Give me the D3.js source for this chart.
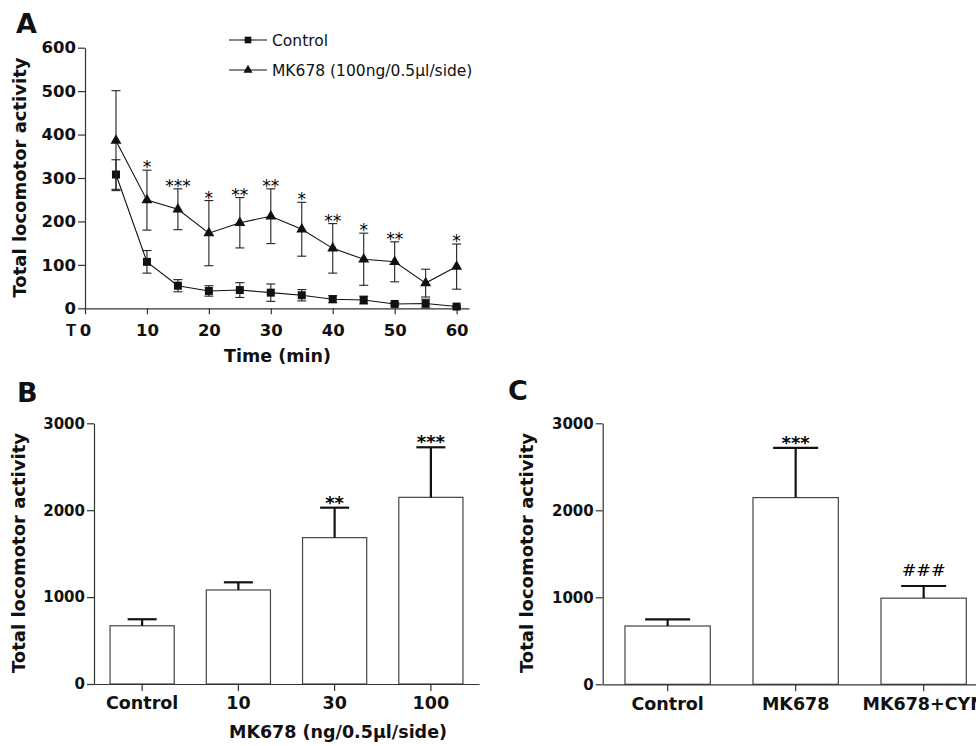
<!DOCTYPE html>
<html>
<head>
<meta charset="utf-8">
<script src="https://cdn.jsdelivr.net/npm/d3@7"></script>
<style>
  body { margin: 0; background: #fff; }
  svg { display: block; }
</style>
</head>
<body>
<div id="chart"></div>
<script>
// panel A: time course
const times = [5, 10, 15, 20, 25, 30, 35, 40, 45, 50, 55, 60];
const controlMean = [308, 107, 52, 40, 42, 36, 30, 21, 19, 10, 11, 4];
const controlSem  = [34, 26, 14, 12, 17, 20, 13, 8, 9, 3, 10, 2];
const mkMean = [386, 249, 228, 173, 197, 212, 182, 138, 113, 107, 58, 96];
const mkSem  = [115, 69, 47, 75, 58, 63, 62, 57, 60, 46, 32, 52];
const mkSig  = ["", "*", "***", "*", "**", "**", "*", "**", "*", "**", "", "*"];
const timeTicks = [0, 10, 20, 30, 40, 50, 60];
const countTicksA = [0, 100, 200, 300, 400, 500, 600];

// panel B: dose response
const doseLabels = ["Control", "10", "30", "100"];
const doseMean = [670, 1082, 1684, 2148];
const doseSem  = [75, 88, 345, 576];
const doseSig  = ["", "", "**", "***"];

// panel C: antagonist
const groupLabels = ["Control", "MK678", "MK678+CYN"];
const groupMean = [670, 2146, 990];
const groupSem  = [77, 571, 140];
const groupSig  = ["", "***", "###"];

const countTicksBC = [0, 1000, 2000, 3000];

const W = 976, H = 746;
const FONT = "'DejaVu Sans', sans-serif";
const AXIS = "#333";

const svg = d3.select("#chart").append("svg")
  .attr("width", W).attr("height", H)
  .attr("viewBox", `0 0 ${W} ${H}`)
  .style("font-family", FONT);

function styleAxis(g, size) {
  g.select(".domain").attr("stroke", AXIS).attr("stroke-width", 1.2);
  g.selectAll(".tick line").attr("stroke", AXIS).attr("stroke-width", 1.2);
  g.selectAll(".tick text")
    .attr("fill", "#111")
    .attr("font-family", FONT)
    .attr("font-weight", "bold")
    .attr("font-size", size);
}

function panelLabel(x, y, t) {
  svg.append("text").attr("x", x).attr("y", y)
    .attr("font-size", 27).attr("font-weight", "bold").attr("fill", "#111")
    .text(t);
}

function yTitle(x, y) {
  svg.append("text")
    .attr("transform", `translate(${x},${y}) rotate(-90)`)
    .attr("text-anchor", "middle")
    .attr("font-size", 18).attr("font-weight", "bold").attr("fill", "#111")
    .text("Total locomotor activity");
}

// ---------- A ----------
const xA = d3.scaleLinear().domain([0, 62]).range([85, 469]);
const yA = d3.scaleLinear().domain([0, 600]).range([308.3, 47.7]);

svg.append("g")
  .attr("transform", `translate(0,${yA(0)})`)
  .call(d3.axisBottom(xA).tickValues(timeTicks).tickSize(6).tickSizeOuter(0).tickPadding(10))
  .call(g => styleAxis(g, 16.5))
  .call(g => g.append("text")
    .attr("x", xA(0) - 9).attr("y", 16).attr("dy", "0.71em")
    .attr("text-anchor", "end").attr("font-size", 16.5).attr("font-weight", "bold")
    .attr("fill", "#111").text("T"));

svg.append("g")
  .attr("transform", `translate(${xA(0)},0)`)
  .call(d3.axisLeft(yA).tickValues(countTicksA).tickSize(7).tickSizeOuter(0).tickPadding(2))
  .call(g => styleAxis(g, 16.5));

const seriesA = [
  { name: "Control", mean: controlMean, sem: controlSem, shape: d3.symbolSquare, size: 64 },
  { name: "MK678 (100ng/0.5µl/side)", mean: mkMean, sem: mkSem, shape: d3.symbolTriangle, size: 52 }
];

const line = d3.line().x(d => xA(d.t)).y(d => yA(d.m));

seriesA.forEach((s, si) => {
  const pts = times.map((t, i) => ({ t, m: s.mean[i], e: s.sem[i] }));
  const g = svg.append("g");
  // error bars
  const eb = g.selectAll("g.eb").data(pts).join("g").attr("class", "eb");
  eb.append("line")
    .attr("x1", d => xA(d.t)).attr("x2", d => xA(d.t))
    .attr("y1", d => yA(d.m + d.e)).attr("y2", d => yA(Math.max(0, d.m - d.e)))
    .attr("stroke", "#222").attr("stroke-width", 1.1);
  eb.append("line")
    .attr("x1", d => xA(d.t) - 4.5).attr("x2", d => xA(d.t) + 4.5)
    .attr("y1", d => yA(d.m + d.e)).attr("y2", d => yA(d.m + d.e))
    .attr("stroke", "#222").attr("stroke-width", 1.1);
  eb.append("line")
    .attr("x1", d => xA(d.t) - 4.5).attr("x2", d => xA(d.t) + 4.5)
    .attr("y1", d => yA(Math.max(0, d.m - d.e))).attr("y2", d => yA(Math.max(0, d.m - d.e)))
    .attr("stroke", "#222").attr("stroke-width", 1.1);
  g.append("path").datum(pts)
    .attr("d", line).attr("fill", "none").attr("stroke", "#111").attr("stroke-width", 1.1);
  g.selectAll("path.mk").data(pts).join("path").attr("class", "mk")
    .attr("transform", d => `translate(${xA(d.t)},${yA(d.m)})`)
    .attr("d", d3.symbol(s.shape, s.size)).attr("fill", "#111");

  // legend
  const ly = si === 0 ? 40 : 70;
  svg.append("line").attr("x1", 229).attr("x2", 267).attr("y1", ly).attr("y2", ly)
    .attr("stroke", "#111").attr("stroke-width", 1.1);
  svg.append("path").attr("transform", `translate(248,${ly})`)
    .attr("d", d3.symbol(s.shape, s.size * 0.7)).attr("fill", "#111");
  svg.append("text").attr("x", 272).attr("y", ly + 5.5)
    .attr("font-size", 15.5).attr("fill", "#111").text(s.name);
});

svg.append("g").selectAll("text").data(times.map((t, i) => ({ t, m: mkMean[i], e: mkSem[i], s: mkSig[i] })))
  .join("text")
  .attr("x", d => xA(d.t)).attr("y", d => yA(d.m + d.e) + 3)
  .attr("text-anchor", "middle").attr("font-size", 17).attr("fill", "#000")
  .text(d => d.s);

svg.append("text").attr("x", 277.5).attr("y", 362)
  .attr("text-anchor", "middle").attr("font-size", 17.5).attr("font-weight", "bold")
  .attr("fill", "#111").text("Time (min)");

panelLabel(16, 33.3, "A");
yTitle(26, 177.5);

// ---------- B & C bar panels ----------
function barPanel(cfg) {
  const x = d3.scaleBand().domain(cfg.labels).range(cfg.xr)
    .paddingInner(1 / 3).paddingOuter(cfg.outer);
  const y = d3.scaleLinear().domain([0, 3000]).range(cfg.yr);

  const data = cfg.labels.map((l, i) => ({ l, m: cfg.mean[i], e: cfg.sem[i], s: cfg.sig[i] }));
  const g = svg.append("g");

  g.selectAll("rect").data(data).join("rect")
    .attr("x", d => x(d.l)).attr("width", x.bandwidth())
    .attr("y", d => y(d.m)).attr("height", d => y(0) - y(d.m))
    .attr("fill", "#fff").attr("stroke", "#444").attr("stroke-width", 1.2);

  const cx = d => x(d.l) + x.bandwidth() / 2;
  g.selectAll("line.stem").data(data).join("line").attr("class", "stem")
    .attr("x1", cx).attr("x2", cx)
    .attr("y1", d => y(d.m)).attr("y2", d => y(d.m + d.e))
    .attr("stroke", "#111").attr("stroke-width", 2.2);
  g.selectAll("line.cap").data(data).join("line").attr("class", "cap")
    .attr("x1", d => cx(d) - cfg.cap).attr("x2", d => cx(d) + cfg.cap)
    .attr("y1", d => y(d.m + d.e)).attr("y2", d => y(d.m + d.e))
    .attr("stroke", "#111").attr("stroke-width", 2.2);

  g.selectAll("text.sig").data(data).join("text").attr("class", "sig")
    .attr("x", cx)
    .attr("y", d => y(d.m + d.e) + (d.s.startsWith("#") ? -10 : 1))
    .attr("text-anchor", "middle")
    .attr("font-family", d => d.s.startsWith("#") ? "'DejaVu Serif', serif" : FONT)
    .attr("font-weight", d => d.s.startsWith("#") ? "normal" : "bold")
    .attr("font-size", d => d.s.startsWith("#") ? 17.5 : 18)
    .attr("fill", "#000")
    .text(d => d.s);

  svg.append("g")
    .attr("transform", `translate(0,${y(0)})`)
    .call(d3.axisBottom(x).tickSize(7).tickSizeOuter(0).tickPadding(6))
    .call(gg => styleAxis(gg, 17.5));
  svg.append("g")
    .attr("transform", `translate(${cfg.xr[0]},0)`)
    .call(d3.axisLeft(y).tickValues(countTicksBC).tickFormat(d3.format("d"))
      .tickSize(7).tickSizeOuter(0).tickPadding(2))
    .call(gg => styleAxis(gg, 15));
}

barPanel({ labels: doseLabels, mean: doseMean, sem: doseSem, sig: doseSig,
  xr: [94, 479], yr: [684, 423.3], outer: 1 / 6, cap: 14.5 });
barPanel({ labels: groupLabels, mean: groupMean, sem: groupSem, sig: groupSig,
  xr: [602.7, 988.6], yr: [684.3, 423.3], outer: 0.174, cap: 22.5 });

svg.append("text").attr("x", 338).attr("y", 738)
  .attr("text-anchor", "middle").attr("font-size", 17.5).attr("font-weight", "bold")
  .attr("fill", "#111").text("MK678 (ng/0.5µl/side)");

panelLabel(17, 401.7, "B");
panelLabel(508, 399.5, "C");
yTitle(24.5, 553);
yTitle(533, 553);
</script>
</body>
</html>
